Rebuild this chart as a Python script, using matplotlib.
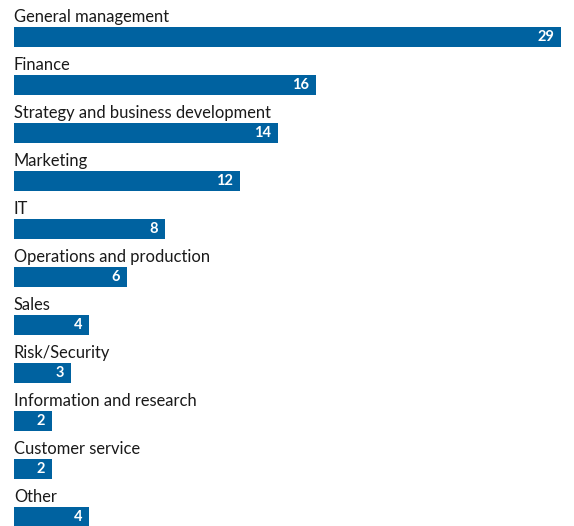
import matplotlib
matplotlib.use("Agg")
import matplotlib.pyplot as plt

categories = ["General management", "Finance", "Strategy and business development",
              "Marketing", "IT", "Operations and production", "Sales", "Risk/Security",
              "Information and research", "Customer service", "Other"]
values = [29, 16, 14, 12, 8, 6, 4, 3, 2, 2, 4]

BAR_COLOR = "#0062a0"
W, H = 574, 526
fig = plt.figure(figsize=(W / 100, H / 100), dpi=100)
ax = fig.add_axes([0, 0, 1, 1])

# pixel-based layout: bar origin at 14 px, 29 units span 547 px, rows 48 px apart
left_px, span_px, row_px, first_px = 14, 547, 48, 37
unit = 29 / span_px
ax.set_xlim(-left_px * unit, (W - left_px) * unit)
ax.set_ylim((H - first_px) / row_px, -first_px / row_px)
ax.axis("off")

y = list(range(len(categories)))
ax.barh(y, values, height=20 / row_px, left=0, color=BAR_COLOR)

for i, (cat, v) in enumerate(zip(categories, values)):
    ax.text(0, i - 15 / row_px, cat, ha="left", va="baseline",
            fontsize=11.9, family="Lato", color="#1a1a1a")
    ax.annotate(str(v), xy=(v, i), xytext=(-7, 0), textcoords="offset pixels",
                ha="right", va="center", fontsize=10.5, fontweight="bold",
                family="Lato", color="white")

fig.savefig("out.png", dpi=100)
